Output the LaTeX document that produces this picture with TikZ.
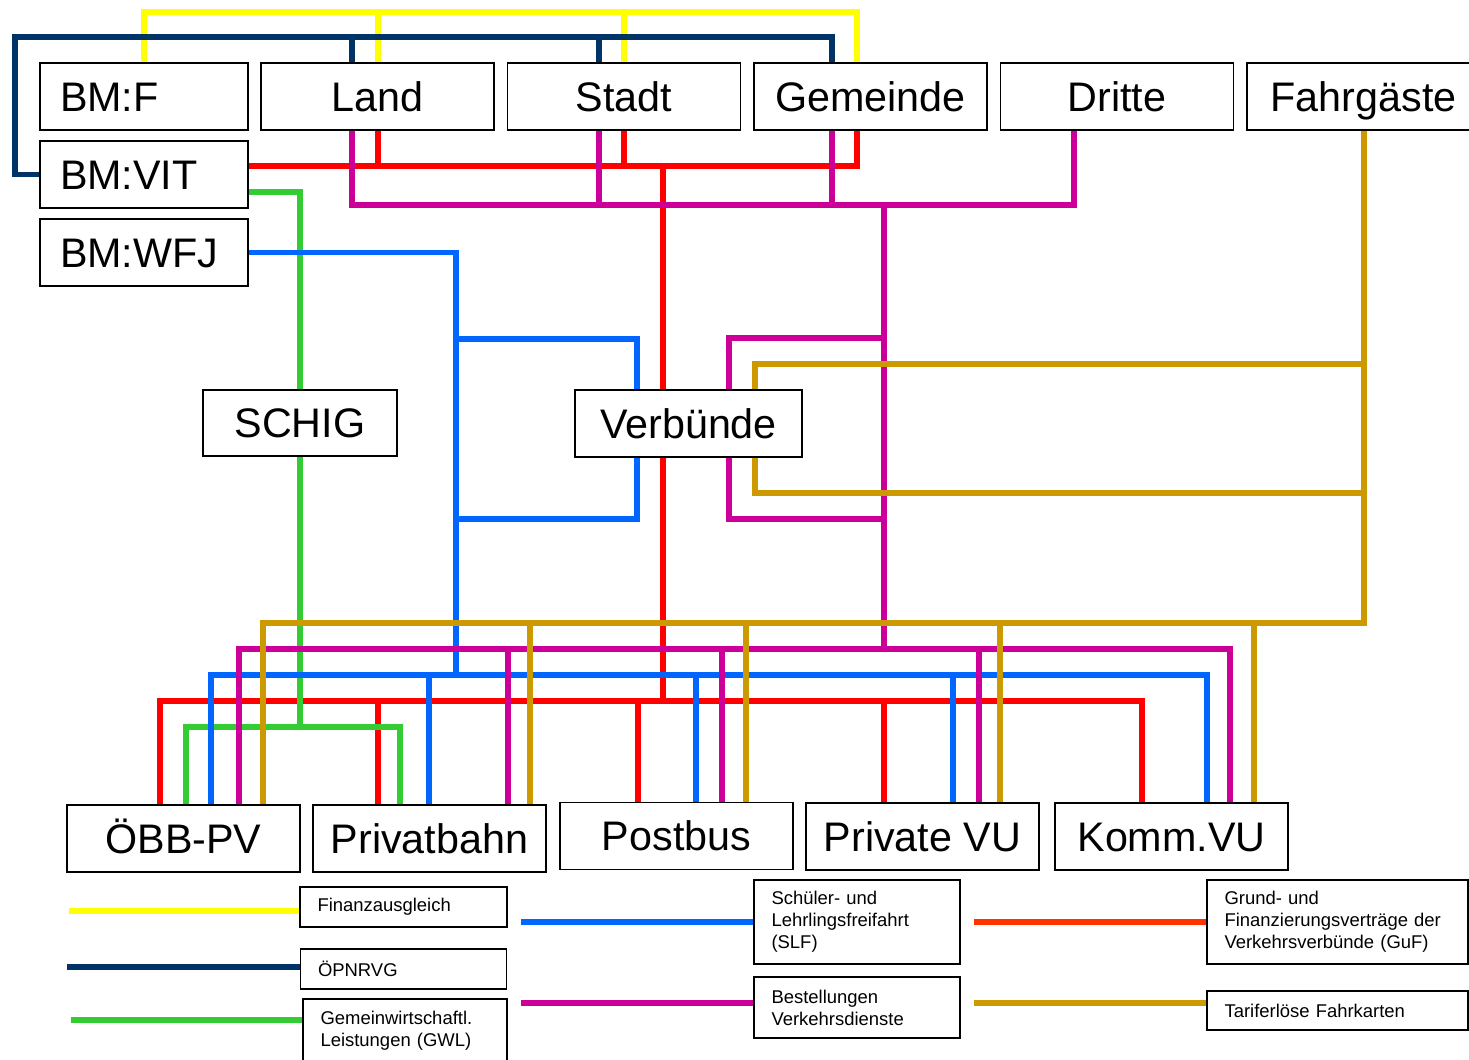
\documentclass[tikz,border=0pt]{standalone}
\usepackage{fontspec}
\setmainfont{Liberation Sans}
\definecolor{cfa}{HTML}{FFFF00}
\definecolor{copn}{HTML}{003366}
\definecolor{cguf}{HTML}{FF0000}
\definecolor{cguflg}{HTML}{FF3300}
\definecolor{cgwl}{HTML}{33CC33}
\definecolor{cslf}{HTML}{0066FF}
\definecolor{cbvd}{HTML}{CC0099}
\definecolor{ctar}{HTML}{CC9900}
\begin{document}
\begin{tikzpicture}[x=0.02cm,y=-0.02cm,
    box/.style={draw,fill=white,line width=0.8pt,minimum width=4.66cm,minimum height=1.34cm,inner sep=0pt,text height=17pt,text depth=0pt,font=\fontsize{23.5}{28}\selectfont},
    bmbox/.style={box,minimum width=4.16cm,text width=3.36cm,inner xsep=0.4cm,align=left},
    legbox/.style={draw,fill=white,line width=0.8pt,inner xsep=0.35cm,inner ysep=0pt,align=left,font=\fontsize{10.5}{12.5}\selectfont},
    fa/.style={line width=3.4pt,draw=cfa},
    opn/.style={line width=3.4pt,draw=copn},
    guf/.style={line width=3.4pt,draw=cguf},
    gwl/.style={line width=3.4pt,draw=cgwl},
    slf/.style={line width=3.4pt,draw=cslf},
    bvd/.style={line width=3.4pt,draw=cbvd},
    tar/.style={line width=3.4pt,draw=ctar}]

    \useasboundingbox (0,0) rectangle (1469,1060);

    \node[bmbox] (bmf) at (144,96.5) {BM:F};
    \node[bmbox] (bmvit) at (144,174.5) {BM:VIT};
    \node[bmbox] (bmwfj) at (144,252.5) {BM:WFJ};
    \node[box] (land) at (377.5,96.5) {Land};
    \node[box] (stadt) at (624,96.5) {Stadt};
    \node[box] (gem) at (870.5,96.5) {Gemeinde};
    \node[box] (dritte) at (1117,96.5) {Dritte};
    \node[box] (fahrg) at (1363.5,96.5) {Fahrgäste};

    \node[box,minimum width=3.88cm,minimum height=1.32cm] (schig) at (300,423) {SCHIG};
    \node[box,minimum width=4.54cm] (verb) at (688.5,423.5) {Verbünde};

    \node[box] (oebb) at (183.5,838.5) {ÖBB-PV};
    \node[box] (pbahn) at (429.5,838.5) {Privatbahn};
    \node[box] (pbus) at (676.5,836) {Postbus};
    \node[box] (pvu) at (922.5,836.5) {Private VU};
    \node[box] (kvu) at (1171.5,836.5) {Komm.VU};

    \draw[fa] (144,0 |- bmf.north) -- (144,12) -- (857,12) -- (857,0 |- gem.north);
    \draw[fa] (378,12) -- (378,0 |- land.north);
    \draw[fa] (624,12) -- (624,0 |- stadt.north);

    \draw[opn] (bmvit.west) -- (15,0 |- bmvit.west) -- (15,37) -- (832,37) -- (832,0 |- gem.north);
    \draw[opn] (352,37) -- (352,0 |- land.north);
    \draw[opn] (599,37) -- (599,0 |- stadt.north);

    \draw[guf] (bmvit.east |- 0,166) -- (857,166) -- (857,0 |- gem.south);
    \draw[guf] (378,0 |- land.south) -- (378,166);
    \draw[guf] (624,0 |- stadt.south) -- (624,166);
    \draw[guf] (663,166) -- (663,0 |- verb.north);
    \draw[guf] (663,0 |- verb.south) -- (663,701);
    \draw[guf] (160,0 |- oebb.north) -- (160,701) -- (1142,701) -- (1142,0 |- kvu.north);
    \draw[guf] (378,701) -- (378,0 |- pbahn.north);
    \draw[guf] (638,701) -- (638,0 |- pbus.north);
    \draw[guf] (884,701) -- (884,0 |- pvu.north);

    \draw[gwl] (bmvit.east |- 0,192) -- (300,192) -- (schig.north);
    \draw[gwl] (schig.south) -- (300,727);
    \draw[gwl] (186,0 |- oebb.north) -- (186,727) -- (400,727) -- (400,0 |- pbahn.north);

    \draw[slf] (bmwfj.east) -- (456,0 |- bmwfj.east) -- (456,675);
    \draw[slf] (456,339) -- (637,339) -- (637,0 |- verb.north);
    \draw[slf] (637,0 |- verb.south) -- (637,519) -- (456,519);
    \draw[slf] (211,0 |- oebb.north) -- (211,675) -- (1207,675) -- (1207,0 |- kvu.north);
    \draw[slf] (429,675) -- (429,0 |- pbahn.north);
    \draw[slf] (696,675) -- (696,0 |- pbus.north);
    \draw[slf] (953,675) -- (953,0 |- pvu.north);

    \draw[bvd] (352,0 |- land.south) -- (352,205) -- (1074,205) -- (1074,0 |- dritte.south);
    \draw[bvd] (599,0 |- stadt.south) -- (599,205);
    \draw[bvd] (832,0 |- gem.south) -- (832,205);
    \draw[bvd] (884,205) -- (884,649);
    \draw[bvd] (884,338) -- (729,338) -- (729,0 |- verb.north);
    \draw[bvd] (729,0 |- verb.south) -- (729,519) -- (884,519);
    \draw[bvd] (239,0 |- oebb.north) -- (239,649) -- (1230,649) -- (1230,0 |- kvu.north);
    \draw[bvd] (508,649) -- (508,0 |- pbahn.north);
    \draw[bvd] (722,649) -- (722,0 |- pbus.north);
    \draw[bvd] (979,649) -- (979,0 |- pvu.north);

    \draw[tar] (fahrg.south) -- (fahrg.south |- 0,623) -- (263,623) -- (263,0 |- oebb.north);
    \draw[tar] (fahrg.south |- 0,364) -- (755,364) -- (755,0 |- verb.north);
    \draw[tar] (755,0 |- verb.south) -- (755,493) -- (fahrg.south |- 0,493);
    \draw[tar] (530,623) -- (530,0 |- pbahn.north);
    \draw[tar] (746,623) -- (746,0 |- pbus.north);
    \draw[tar] (1000,623) -- (1000,0 |- pvu.north);
    \draw[tar] (1254,623) -- (1254,0 |- kvu.north);

    \node[legbox,text width=3.44cm,minimum height=0.8cm] (lfa) at (403.5,907) {Finanzausgleich};
    \node[legbox,text width=3.42cm,minimum height=0.8cm] (lopn) at (403.5,969) {ÖPNRVG};
    \node[legbox,text width=3.38cm,minimum height=1.28cm] (lgwl) at (405,1031) {Gemeinwirtschaftl.\\Leistungen (GWL)};
    \node[legbox,text width=3.42cm,minimum height=1.68cm] (lslf) at (857,922) {Schüler- und\\Lehrlingsfreifahrt\\(SLF)};
    \node[legbox,text width=3.42cm,minimum height=1.22cm] (lbest) at (857,1007.5) {Bestellungen\\Verkehrsdienste};
    \node[legbox,text width=4.52cm,minimum height=1.68cm] (lguf) at (1337.5,922) {Grund- und\\Finanzierungsverträge der\\Verkehrsverbünde (GuF)};
    \node[legbox,text width=4.52cm,minimum height=0.78cm] (ltar) at (1337.5,1010.5) {Tariferlöse Fahrkarten};

    \draw[fa] (lfa.west |- 0,911) -- (69,911);
    \draw[opn] (lopn.west |- 0,967) -- (67,967);
    \draw[gwl] (lgwl.west |- 0,1020) -- (71,1020);
    \draw[slf] (lslf.west) -- (lslf.west -| 521,0);
    \draw[bvd] (lbest.west |- 0,1003) -- (521,1003);
    \draw[line width=3.4pt,draw=cguflg] (lguf.west) -- (lguf.west -| 974,0);
    \draw[tar] (ltar.west |- 0,1003) -- (974,1003);
    \end{tikzpicture}
\end{document}
